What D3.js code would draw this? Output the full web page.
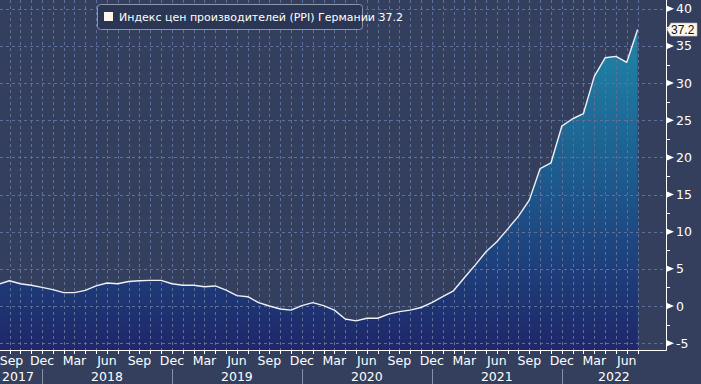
<!DOCTYPE html>
<html>
<head>
<meta charset="utf-8">
<script src="https://cdn.jsdelivr.net/npm/d3@7"></script>
<style>
  body { margin: 0; background: #343f5e; }
  svg { display: block; font-family: "DejaVu Sans", sans-serif; }
</style>
</head>
<body>
<svg id="chart" width="701" height="384"></svg>
<script>
//monthly data, first value is Aug 2017
const startMonth = new Date(2017, 7, 1);
const ppiValues = [2.95, 3.4, 3.0, 2.8, 2.5,
  2.2, 1.8, 1.8, 2.1, 2.7, 3.1, 3.0, 3.3, 3.4, 3.45, 3.45, 3.0,
  2.8, 2.8, 2.6, 2.7, 2.15, 1.4, 1.25, 0.45, 0.0, -0.4, -0.55, 0.05,
  0.45, 0.05, -0.55, -1.75, -2.0, -1.65, -1.65, -1.1, -0.75, -0.55, -0.2, 0.45,
  1.25, 2.05, 3.8, 5.5, 7.3, 8.65, 10.35, 12.1, 14.25, 18.5, 19.25, 24.2,
  25.2, 25.9, 30.9, 33.4, 33.6, 32.8, 37.2];
const monthNames = ["Jan", "Feb", "Mar", "Apr", "May", "Jun", "Jul", "Aug", "Sep", "Oct", "Nov", "Dec"];
const labelMonths = ["Mar", "Jun", "Sep", "Dec"];
const yTicks = [-5, 0, 5, 10, 15, 20, 25, 30, 35, 40];
const seriesName = "Индекс цен производителей (PPI) Германии";

//build rows with a month index (Sep 2017 = 0)
let data = ppiValues.map((v, i) => {
  let d = new Date(startMonth.getFullYear(), startMonth.getMonth() + i, 1);
  return { idx: i - 1, date: d, value: v };
});
let last = data[data.length - 1];

let svg = d3.select("#chart");
let plotRight = 666, plotBottom = 350;

let x = d3.scaleLinear().domain([0, 58]).range([9.5, 637.6]);
let y = d3.scaleLinear().domain([-5.92, 41.18]).range([plotBottom, 0]);

let defs = svg.append("defs");
let grad = defs.append("linearGradient")
  .attr("id", "fillGrad")
  .attr("gradientUnits", "userSpaceOnUse")
  .attr("x1", 0).attr("x2", 0)
  .attr("y1", y(40)).attr("y2", plotBottom);
grad.append("stop").attr("offset", 0).attr("stop-color", "#218cab");
grad.append("stop").attr("offset", 0.45).attr("stop-color", "#1d5f90");
grad.append("stop").attr("offset", 0.8).attr("stop-color", "#1e3a78");
grad.append("stop").attr("offset", 1).attr("stop-color", "#1f2768");

defs.append("clipPath").attr("id", "plotClip")
  .append("rect").attr("x", 0).attr("y", 0).attr("width", plotRight).attr("height", plotBottom);

let plot = svg.append("g").attr("clip-path", "url(#plotClip)");

//area under the line
let area = d3.area()
  .x(d => x(d.idx))
  .y0(plotBottom)
  .y1(d => y(d.value));
plot.append("path").datum(data).attr("d", area).attr("fill", "url(#fillGrad)");

//dashed grid
let gridColor = "#5c709a";
plot.selectAll(".hgrid").data(yTicks).enter().append("line")
  .attr("x1", 0).attr("x2", plotRight)
  .attr("y1", d => Math.round(y(d)) + 0.5).attr("y2", d => Math.round(y(d)) + 0.5)
  .attr("stroke", gridColor).attr("stroke-dasharray", "3,3");
plot.selectAll(".vgrid").data(data).enter().append("line")
  .attr("x1", d => Math.round(x(d.idx)) + 0.5).attr("x2", d => Math.round(x(d.idx)) + 0.5)
  .attr("y1", 0).attr("y2", plotBottom)
  .attr("stroke", gridColor).attr("stroke-dasharray", "3,3");

//the series line
let line = d3.line().x(d => x(d.idx)).y(d => y(d.value));
plot.append("path").datum(data).attr("d", line)
  .attr("fill", "none").attr("stroke", "#eef2f7").attr("stroke-width", 1.4)
  .attr("stroke-linejoin", "round");

//right axis
let yAxis = svg.append("g");
yAxis.append("line").attr("x1", plotRight + 0.5).attr("x2", plotRight + 0.5)
  .attr("y1", 0).attr("y2", plotBottom + 0.5).attr("stroke", "#fff");
yAxis.selectAll(".minor").data(yTicks.map(t => t + 2.5).filter(t => y(t) > 0)).enter().append("line")
  .attr("x1", plotRight).attr("x2", plotRight + 4)
  .attr("y1", d => Math.round(y(d)) + 0.5).attr("y2", d => Math.round(y(d)) + 0.5)
  .attr("stroke", "#fff");
yAxis.selectAll(".major").data(yTicks).enter().append("path")
  .attr("d", d => "M" + (plotRight + 1) + "," + (y(d) - 3) + "L" + (plotRight + 8) + "," + y(d) + "L" + (plotRight + 1) + "," + (y(d) + 3) + "Z")
  .attr("fill", "#fff");
yAxis.selectAll(".ylab").data(yTicks).enter().append("text")
  .attr("x", plotRight + 10).attr("y", d => y(d)).attr("dy", "0.36em")
  .attr("fill", "#fff").attr("font-size", 12.5)
  .text(d => d < 0 ? "-" + Math.abs(d) : d);

//last value flag
let fy = y(last.value);
svg.append("path")
  .attr("d", "M" + (plotRight + 1) + "," + fy + "L" + (plotRight + 5) + "," + (fy - 6.5) + "L697," + (fy - 6.5) + "L697," + (fy + 6.5) + "L" + (plotRight + 5) + "," + (fy + 6.5) + "Z")
  .attr("fill", "#fdf6ea").attr("stroke", "#c9c2b8").attr("stroke-width", 0.6);
svg.append("text").attr("x", plotRight + 5).attr("y", fy).attr("dy", "0.36em")
  .attr("fill", "#111").attr("font-size", 12).attr("font-family", "Liberation Sans, sans-serif")
  .text(last.value.toFixed(1));

//bottom axis
let xAxis = svg.append("g");
xAxis.append("line").attr("x1", 0).attr("x2", plotRight + 0.5)
  .attr("y1", plotBottom + 0.5).attr("y2", plotBottom + 0.5).attr("stroke", "#fff");
xAxis.selectAll(".tick").data(data.filter(d => d.idx >= 0)).enter().append("line")
  .attr("x1", d => Math.round(x(d.idx)) + 0.5).attr("x2", d => Math.round(x(d.idx)) + 0.5)
  .attr("y1", plotBottom).attr("y2", plotBottom + 4).attr("stroke", "#fff");
xAxis.selectAll(".mlab").data(data.filter(d => d.idx >= 0 && labelMonths.includes(monthNames[d.date.getMonth()]))).enter().append("text")
  .attr("x", d => Math.max(x(d.idx), 11.5)).attr("y", 365).attr("text-anchor", "middle")
  .attr("fill", "#fff").attr("font-size", 12.5)
  .text(d => monthNames[d.date.getMonth()]);

//year separators at each December, year labels centred between them
let decs = data.filter(d => d.idx >= 0 && d.date.getMonth() == 11).map(d => x(d.idx));
xAxis.selectAll(".sep").data(decs).enter().append("line")
  .attr("x1", d => Math.round(d) + 0.5).attr("x2", d => Math.round(d) + 0.5)
  .attr("y1", 369).attr("y2", 384).attr("stroke", "#8391ab");
let bounds = [0].concat(decs).concat([plotRight]);
let years = d3.range(2017, 2023);
xAxis.selectAll(".ylabel").data(years).enter().append("text")
  .attr("x", (d, i) => (bounds[i] + bounds[i + 1]) / 2 - (i == 0 ? 3 : 0))
  .attr("y", 381).attr("text-anchor", "middle")
  .attr("fill", "#fff").attr("font-size", 12.5)
  .text(d => d);

//legend
let legend = svg.append("g");
legend.append("rect").attr("x", 97.5).attr("y", 4.5).attr("width", 265).attr("height", 25).attr("rx", 3)
  .attr("fill", "#2b3654").attr("stroke", "#8c95aa");
legend.append("rect").attr("x", 104).attr("y", 12).attr("width", 9).attr("height", 9).attr("fill", "#fdf6ea");
legend.append("text").attr("x", 119).attr("y", 21).attr("fill", "#fff").attr("font-size", 11)
  .text(seriesName + " " + last.value.toFixed(1));
</script>
</body>
</html>
